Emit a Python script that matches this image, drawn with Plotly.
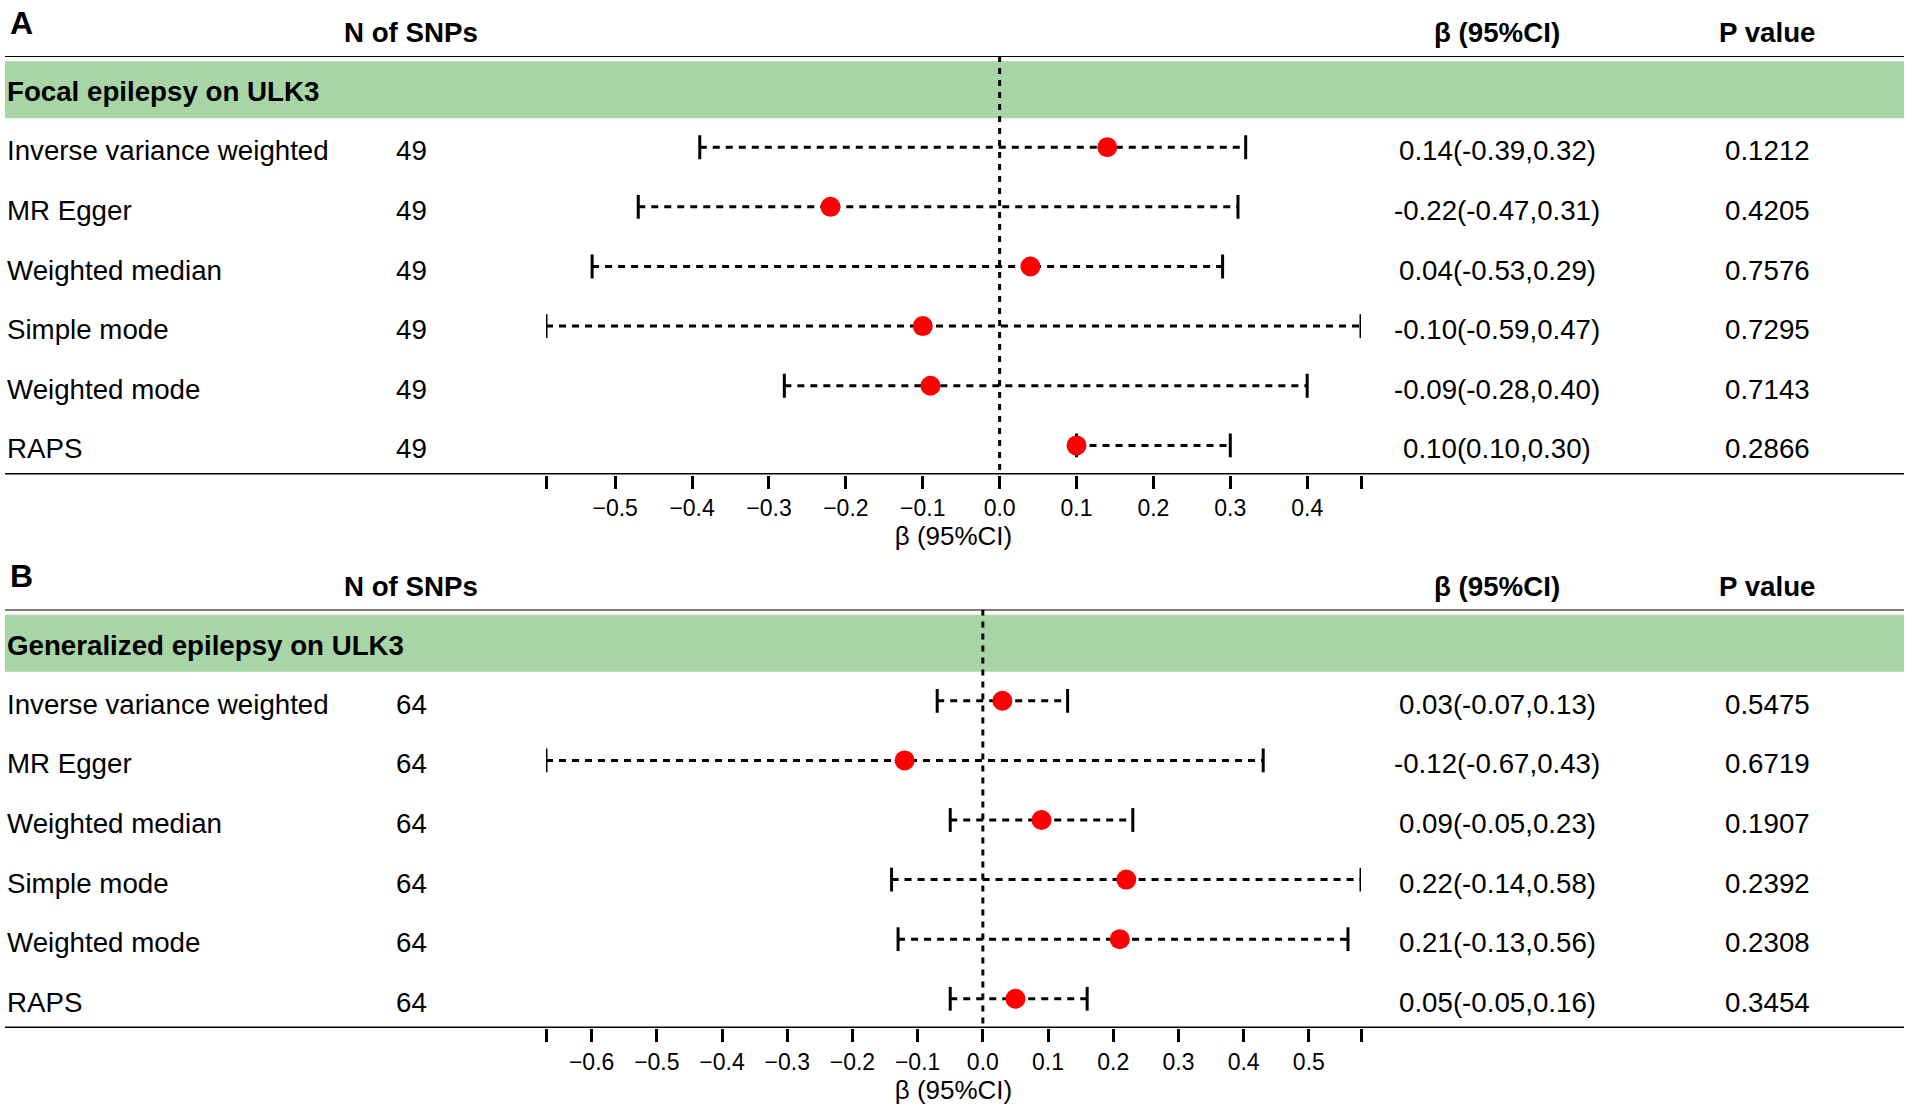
import plotly.graph_objects as go

W, H = 1908, 1110

# ---------------- data ----------------
methods = ["Inverse variance weighted", "MR Egger", "Weighted median",
           "Simple mode", "Weighted mode", "RAPS"]

title_a = "Focal epilepsy on ULK3"
snps_a = [49, 49, 49, 49, 49, 49]
beta_a = [0.14, -0.22, 0.04, -0.10, -0.09, 0.10]
lo_a = [-0.39, -0.47, -0.53, -0.59, -0.28, 0.10]
hi_a = [0.32, 0.31, 0.29, 0.47, 0.40, 0.30]
p_a = ["0.1212", "0.4205", "0.7576", "0.7295", "0.7143", "0.2866"]
ticks_a = [-0.5, -0.4, -0.3, -0.2, -0.1, 0.0, 0.1, 0.2, 0.3, 0.4]

title_b = "Generalized epilepsy on ULK3"
snps_b = [64, 64, 64, 64, 64, 64]
beta_b = [0.03, -0.12, 0.09, 0.22, 0.21, 0.05]
lo_b = [-0.07, -0.67, -0.05, -0.14, -0.13, -0.05]
hi_b = [0.13, 0.43, 0.23, 0.58, 0.56, 0.16]
p_b = ["0.5475", "0.6719", "0.1907", "0.2392", "0.2308", "0.3454"]
ticks_b = [-0.6, -0.5, -0.4, -0.3, -0.2, -0.1, 0.0, 0.1, 0.2, 0.3, 0.4, 0.5]

header_cols = ["N of SNPs", "β (95%CI)", "P value"]
axis_title = "β (95%CI)"

# ---------------- style ----------------
FONT = "Liberation Sans, Arial, Helvetica, sans-serif"
GREEN = "#a8d5a6"
RED = "#ff0000"
TXT = 27.7
TOP, BOT = -0.53, 6.49          # row-unit positions of top/bottom rules
BAND0, BAND1 = -0.443, 0.513
X_LEFT, X_RIGHT = 5 / W, 1904 / W
X_N, X_CI, X_P = 411 / W, 1497 / W, 1767 / W
DOM_X = [546 / W, 1361 / W]

panels = [
    dict(letter="A", title=title_a, snps=snps_a, beta=beta_a, lo=lo_a, hi=hi_a,
         p=p_a, ticks=ticks_a, xa="x", ya="y", dom=[1 - 474.6 / H, 1 - 56 / H]),
    dict(letter="B", title=title_b, snps=snps_b, beta=beta_b, lo=lo_b, hi=hi_b,
         p=p_b, ticks=ticks_b, xa="x2", ya="y2", dom=[1 - 1028 / H, 1 - 609.6 / H]),
]

fig = go.Figure()
annotations = []
shapes = []


def fmt_tick(v):
    s = f"{v:.1f}"
    return s.replace("-", "\u2212")


for k, pn in enumerate(panels):
    rows = list(range(1, len(methods) + 1))
    xa, ya = pn["xa"], pn["ya"]
    yref = ya
    xmin, xmax = min(pn["lo"]), max(pn["hi"])
    d0, d1 = pn["dom"]

    def to_paper(r):
        return d0 + (BOT - r) / (BOT - TOP) * (d1 - d0)

    # zero reference line
    fig.add_trace(go.Scatter(x=[0, 0], y=[TOP, BOT], mode="lines",
                             line=dict(color="black", width=3, dash="6px,6px"),
                             xaxis=xa, yaxis=ya, hoverinfo="skip", showlegend=False))
    # CI lines
    cx, cy = [], []
    for lo, hi, r in zip(pn["lo"], pn["hi"], rows):
        cx += [lo, hi, None]
        cy += [r, r, None]
    fig.add_trace(go.Scatter(x=cx, y=cy, mode="lines",
                             line=dict(color="black", width=3, dash="7px,6px"),
                             xaxis=xa, yaxis=ya, hoverinfo="skip", showlegend=False))
    # caps
    fig.add_trace(go.Scatter(x=pn["lo"] + pn["hi"], y=rows + rows, mode="markers",
                             marker=dict(symbol="line-ns", size=17,
                                         line=dict(color="black", width=3)),
                             xaxis=xa, yaxis=ya, hoverinfo="skip", showlegend=False))
    # points
    fig.add_trace(go.Scatter(x=pn["beta"], y=rows, mode="markers",
                             marker=dict(color=RED, size=20, line=dict(width=0)),
                             xaxis=xa, yaxis=ya, showlegend=False))

    # axes
    tv = [xmin] + pn["ticks"] + [xmax]
    tt = [""] + [fmt_tick(v) for v in pn["ticks"]] + [""]
    xkey = "xaxis" if xa == "x" else "xaxis2"
    ykey = "yaxis" if ya == "y" else "yaxis2"
    fig.update_layout(**{
        xkey: dict(domain=DOM_X, range=[xmin, xmax], anchor=ya,
                   tickvals=tv, ticktext=tt, ticks="outside", ticklen=13,
                   tickwidth=3, tickcolor="black", showgrid=False,
                   zeroline=False, showline=False,
                   tickfont=dict(family=FONT, size=23, color="black"),
                   title=dict(text=axis_title, standoff=3,
                              font=dict(family=FONT, size=26, color="black"))),
        ykey: dict(domain=pn["dom"], range=[BOT, TOP], anchor=xa,
                   visible=False, showgrid=False, zeroline=False),
    })

    # rules and band
    shapes.append(dict(type="rect", xref="paper", yref=yref, x0=X_LEFT, x1=X_RIGHT,
                       y0=BAND0, y1=BAND1, fillcolor=GREEN, line=dict(width=0),
                       layer="below"))
    shapes.append(dict(type="line", xref="paper", yref=yref, x0=X_LEFT, x1=X_RIGHT,
                       y0=TOP, y1=TOP, line=dict(color="black", width=2)))
    shapes.append(dict(type="line", xref="paper", yref=yref, x0=X_LEFT, x1=X_RIGHT,
                       y0=BOT, y1=BOT, line=dict(color="black", width=3)))

    def ann(text, x, r, xanchor, size=TXT):
        annotations.append(dict(text=text, x=x, y=to_paper(r), xref="paper",
                                yref="paper", xanchor=xanchor, yanchor="middle",
                                showarrow=False,
                                font=dict(family=FONT, size=size, color="black")))

    ann(f"<b>{pn['letter']}</b>", 8 / W, -1.09, "left", size=32)
    ann(f"<b>{header_cols[0]}</b>", X_N, -0.92, "center")
    ann(f"<b>{header_cols[1]}</b>", X_CI, -0.92, "center")
    ann(f"<b>{header_cols[2]}</b>", X_P, -0.92, "center")
    ann(f"<b>{pn['title']}</b>", X_LEFT, 0.07, "left")
    for m, n, b, lo, hi, pv, r in zip(methods, pn["snps"], pn["beta"], pn["lo"],
                                      pn["hi"], pn["p"], rows):
        yy = r + 0.06
        ann(m, X_LEFT, yy, "left")
        ann(str(n), X_N, yy, "center")
        ann(f"{b:.2f}({lo:.2f},{hi:.2f})", X_CI, yy, "center")
        ann(pv, X_P, yy, "center")

fig.update_layout(width=W, height=H, margin=dict(l=0, r=0, t=0, b=0),
                  paper_bgcolor="white", plot_bgcolor="rgba(0,0,0,0)",
                  annotations=annotations, shapes=shapes, showlegend=False,
                  font=dict(family=FONT, color="black"))

fig.write_html("out.html", config={"displayModeBar": False},
               post_script="document.body.style.margin='0';"
                           "document.body.style.overflow='hidden';")
